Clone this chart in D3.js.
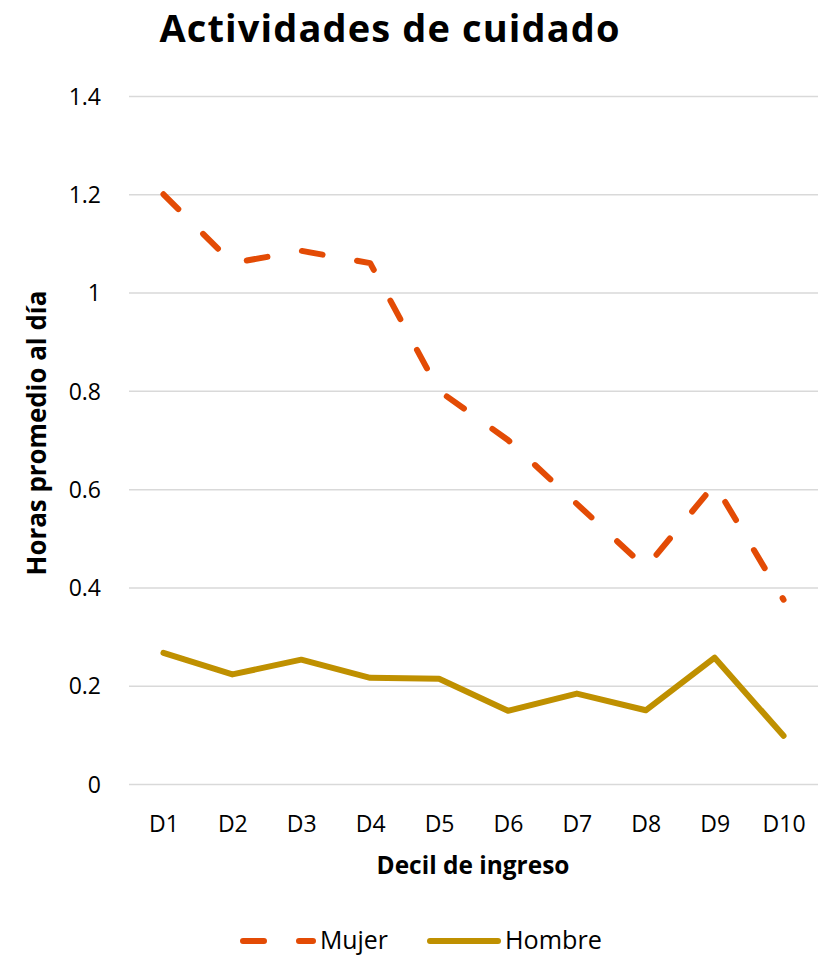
<!DOCTYPE html>
<html>
<head>
<meta charset="utf-8">
<script src="https://cdn.jsdelivr.net/npm/d3@7"></script>
<style>
  html, body { margin: 0; padding: 0; background: #fff; }
  svg { display: block; }
  text { font-family: "Open Sans", Lato, sans-serif; fill: #000; }
</style>
</head>
<body>
<svg id="chart" width="831" height="955"></svg>
<script>
const categories = ["D1", "D2", "D3", "D4", "D5", "D6", "D7", "D8", "D9", "D10"];
const mujer = [1.20, 1.06, 1.085, 1.06, 0.80, 0.70, 0.57, 0.44, 0.61, 0.375];
const hombre = [0.267, 0.223, 0.253, 0.216, 0.214, 0.149, 0.184, 0.150, 0.257, 0.098];
const yTicks = [0, 0.2, 0.4, 0.6, 0.8, 1, 1.2, 1.4];
const seriesNames = ["Mujer", "Hombre"];
const colors = { Mujer: "#E34B05", Hombre: "#BF9000" };

const FONT = '"Open Sans", Lato, sans-serif';
const svg = d3.select("#chart");
const plotLeft = 129, plotRight = 818, plotTop = 96, plotBottom = 784;

const x = d3.scalePoint().domain(categories).range([plotLeft, plotRight]).padding(0.5);
const y = d3.scaleLinear().domain([0, 1.4]).range([plotBottom, plotTop]);

function fitWidth(sel, target, maxSize) {
  let size = maxSize;
  sel.style("font-size", size + "px");
  const w = sel.node().getComputedTextLength();
  if (w > 0) {
    size = size * target / w;
    sel.style("font-size", size + "px");
  }
  return sel;
}

// Title (fixed size, spacing adjusted to match width)
const title = svg.append("text")
  .attr("x", 390).attr("y", 42)
  .attr("text-anchor", "middle")
  .style("font-weight", "bold")
  .style("font-size", "38px")
  .text("Actividades de cuidado");
{
  const w = title.node().getComputedTextLength();
  const n = title.text().length;
  if (w > 0) title.style("letter-spacing", ((460 - w) / (n - 1)) + "px");
}

// Gridlines + y tick labels
const yAxis = d3.axisLeft(y).tickValues(yTicks).tickSize(-(plotRight - plotLeft)).tickPadding(28)
  .tickFormat(d => d3.format("")(d));
const gy = svg.append("g").attr("transform", `translate(${plotLeft},0)`).call(yAxis);
gy.select(".domain").remove();
gy.selectAll(".tick line").attr("stroke", "#d9d9d9").attr("stroke-width", 1.5);
gy.selectAll(".tick text").style("font-size", "23px").attr("fill", "#000")
  .style("font-family", FONT).attr("dy", "0.36em");

// X axis labels
const xAxis = d3.axisBottom(x).tickSize(0).tickPadding(0);
const gx = svg.append("g").attr("transform", `translate(0,${plotBottom})`).call(xAxis);
gx.select(".domain").remove();
gx.selectAll(".tick text").style("font-size", "23px").attr("fill", "#000")
  .style("font-family", FONT).attr("y", 48).attr("dy", 0);

// Axis titles
const xTitle = svg.append("text")
  .attr("x", 473).attr("y", 874)
  .attr("text-anchor", "middle")
  .style("font-weight", "bold")
  .text("Decil de ingreso");
fitWidth(xTitle, 193, 22);

const yTitle = svg.append("text")
  .attr("transform", "translate(46,433) rotate(-90)")
  .attr("text-anchor", "middle")
  .style("font-weight", "bold")
  .text("Horas promedio al día");
fitWidth(yTitle, 285, 22);

// Lines
const line = d3.line().x((d, i) => x(categories[i])).y(d => y(d));

svg.append("path").datum(hombre)
  .attr("fill", "none").attr("stroke", colors.Hombre)
  .attr("stroke-width", 6).attr("stroke-linejoin", "round").attr("stroke-linecap", "round")
  .attr("d", line);

svg.append("path").datum(mujer)
  .attr("fill", "none").attr("stroke", colors.Mujer)
  .attr("stroke-width", 6).attr("stroke-linejoin", "round").attr("stroke-linecap", "round")
  .attr("stroke-dasharray", "21,35")
  .attr("d", line);

// Legend
const legendY = 941;
const lg = svg.append("g");
lg.append("line").attr("x1", 243).attr("x2", 313).attr("y1", legendY).attr("y2", legendY)
  .attr("stroke", colors.Mujer).attr("stroke-width", 6).attr("stroke-linecap", "round")
  .attr("stroke-dasharray", "21,35");
const t1 = lg.append("text").attr("x", 320).attr("y", legendY + 8).text(seriesNames[0]);
fitWidth(t1, 68, 22);
lg.append("line").attr("x1", 430).attr("x2", 498).attr("y1", legendY).attr("y2", legendY)
  .attr("stroke", colors.Hombre).attr("stroke-width", 6).attr("stroke-linecap", "round");
const t2 = lg.append("text").attr("x", 505).attr("y", legendY + 8).text(seriesNames[1]);
fitWidth(t2, 97, 22);
</script>
</body>
</html>
